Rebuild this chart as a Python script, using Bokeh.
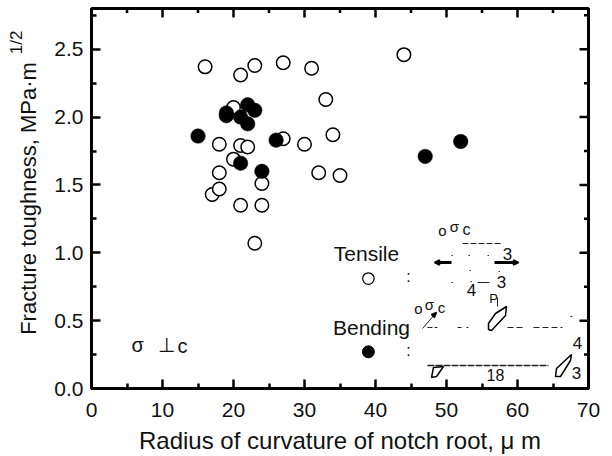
from bokeh.plotting import figure
from bokeh.embed import file_html
from bokeh.resources import INLINE
from bokeh.models import Range1d, FixedTicker, Title, PrintfTickFormatter
from bokeh.core.properties import value

# ---- data ----
open_x = [16, 21, 23, 27, 31, 44, 33, 20, 34, 18, 21, 22, 27, 30, 20, 18, 24, 32, 35, 17, 18, 21, 24, 23]
open_y = [2.37, 2.31, 2.38, 2.40, 2.36, 2.46, 2.13, 2.07, 1.87, 1.80, 1.79, 1.78, 1.84, 1.80, 1.69, 1.59, 1.51, 1.59, 1.57, 1.43, 1.47, 1.35, 1.35, 1.07]
filled_x = [15, 19, 19, 22, 21, 23, 22, 26, 21, 24, 47, 52]
filled_y = [1.86, 2.01, 2.03, 2.09, 2.00, 2.05, 1.95, 1.83, 1.66, 1.60, 1.71, 1.82]
legend_open = (39, 0.81)
legend_filled = (39, 0.27)
x_major = [0, 10, 20, 30, 40, 50, 60, 70]
x_minor = [5, 15, 25, 35, 45, 55, 65]
y_major = [0.0, 0.5, 1.0, 1.5, 2.0, 2.5]
y_minor = [0.25, 0.75, 1.25, 1.75, 2.25, 2.75]
x_title = "Radius of curvature of notch root, \u03bc m"
y_title = "Fracture toughness, MPa\u00b7m"
y_title_exponent = "1/2"

FONT = "Liberation Sans"
INK = "#111111"
XMAX, YMAX = 70, 2.8

p = figure(width=608, height=456, output_backend="svg", toolbar_location=None,
           x_range=Range1d(0, XMAX), y_range=Range1d(0, YMAX),
           min_border_left=91, min_border_right=20, min_border_top=8, min_border_bottom=66,
           x_axis_label=x_title, y_axis_label=y_title)
p.grid.visible = False
p.outline_line_color = "black"
p.outline_line_width = 3
p.background_fill_color = "white"


def style(ax, major, minor, title_size):
    ax.ticker = FixedTicker(ticks=major, minor_ticks=minor)
    ax.axis_line_width = 3
    ax.axis_line_color = "black"
    ax.major_tick_in = 9
    ax.major_tick_out = 0
    ax.minor_tick_in = 5
    ax.minor_tick_out = 0
    ax.major_tick_line_width = 2.5
    ax.minor_tick_line_width = 2.5
    ax.major_tick_line_color = "black"
    ax.minor_tick_line_color = "black"
    ax.major_label_text_font = FONT
    ax.major_label_text_font_size = "21px"
    ax.major_label_text_color = INK
    ax.axis_label_text_font = FONT
    ax.axis_label_text_font_size = title_size
    ax.axis_label_text_font_style = "normal"
    ax.axis_label_text_color = INK


style(p.xaxis[0], x_major, x_minor, "24px")
style(p.yaxis[0], y_major, y_minor, "22px")
p.xaxis[0].major_label_standoff = 14
p.yaxis[0].major_label_standoff = 8
p.xaxis[0].axis_label_standoff = 7
p.yaxis[0].axis_label_standoff = 10
p.xaxis[0].formatter = PrintfTickFormatter(format="%d")
p.yaxis[0].formatter = PrintfTickFormatter(format="%.1f")

# ticks of the top and right edges, from the same tick lists
dx = 9 / 497 * XMAX
dy = 9 / 380 * YMAX
for ticks, ln in ((x_major, 1.0), (x_minor, 0.5)):
    p.segment(ticks, [YMAX] * len(ticks), ticks, [YMAX - dy * ln] * len(ticks), line_color="black", line_width=2.5)
for ticks, ln in ((y_major, 1.0), (y_minor, 0.5)):
    p.segment([XMAX] * len(ticks), ticks, [XMAX - dx * ln] * len(ticks), ticks, line_color="black", line_width=2.5)

p.scatter(open_x, open_y, size=13.5, marker="circle", fill_color="white", line_color="black", line_width=1.5)
p.scatter(filled_x, filled_y, size=14.5, marker="circle", fill_color="black", line_color="black", line_width=0.5)
p.scatter([legend_open[0]], [legend_open[1]], size=11.5, marker="circle", fill_color="white", line_color="black", line_width=1.2)
p.scatter([legend_filled[0]], [legend_filled[1]], size=12, marker="circle", fill_color="black", line_color="black")


# schematic inset: placed by its position on the picture
def X(px):
    return (px - 91) / 497 * XMAX


def Y(py):
    return (388 - py) / 380 * YMAX


def txt(px, py, s, size=20, align="center"):
    p.text([X(px)], [Y(py)], text=[s], text_font=value(FONT), text_font_size=value(f"{size}px"),
           text_align=align, text_baseline="middle", text_color=INK)


def seg(x0, y0, x1, y1, w=1.2, dash="solid", c="#222222"):
    p.line([X(x0), X(x1)], [Y(y0), Y(y1)], line_width=w, line_dash=dash, line_color=c)


def poly(points, fill="white"):
    p.patch([X(a) for a, _ in points], [Y(b) for _, b in points], fill_color=fill, line_color="black", line_width=1.5)


txt(366, 253, "Tensile", 21)
txt(371, 327, "Bending", 21)
txt(408, 276, ":", 16)
txt(408, 350, ":", 16)
txt(131, 344, "\u03c3", 20, "left")
txt(157, 344, "\u22a5", 20, "left")
txt(177, 345, "c", 20, "left")

# tensile specimen
txt(442, 230, "o", 15)
txt(454, 226, "\u03c3", 15)
txt(466, 229, "c", 16)
seg(462, 243, 501, 243, 1, "6 2")
txt(507, 253, "3", 17)
seg(438, 262, 451, 262, 3, c="black")
seg(494, 262, 513, 262, 3, c="black")
poly([(434, 262), (439, 259.5), (439, 264.5)], "black")
poly([(518, 262), (513, 259.5), (513, 264.5)], "black")
seg(477, 282, 489, 282, 1.2)
txt(501, 281, "3", 17)
txt(471, 289, "4", 17)
for a, b in [(451, 255), (468, 255), (487, 255), (451, 282), (470, 281), (469, 270), (498, 271)]:
    seg(a, b, a + 1.5, b, 1.2, c="#333333")

# bending specimen
txt(418, 308, "o", 15)
txt(429, 304, "\u03c3", 15)
txt(441, 307, "c", 15)
seg(422, 328, 435, 313, 1)
poly([(436, 312), (431, 314), (434, 317)], "black")
seg(427, 327, 437, 327, 1, "5 2")
seg(457, 327, 468, 327, 1, "4 5")
seg(507, 327, 523, 327, 1, "6 3")
seg(533, 327, 562, 327, 1, "6 3")
seg(570, 316, 572, 316, 1)
txt(493, 298, "P", 13)
seg(497, 297, 497, 306, 1)
poly([(488, 323), (495, 313), (506, 306), (505, 315), (491, 330), (488, 329)])
seg(427, 365, 548, 365, 1.3, "7 1")
poly([(431, 377), (433, 367), (443, 366), (436, 376)])
poly([(555, 376), (556, 368), (571, 354), (570, 360), (560, 376)])
txt(495, 374, "18", 16)
txt(577, 342, "4", 17)
txt(576, 372, "3", 17)

# exponent of the y title, as a title of the left side
p.add_layout(Title(text=y_title_exponent, align="right", offset=22, standoff=-24, text_font=FONT,
                   text_font_size="17px", text_font_style="normal", text_color=INK), "left")

open("out.html", "w").write(file_html(p, INLINE))
